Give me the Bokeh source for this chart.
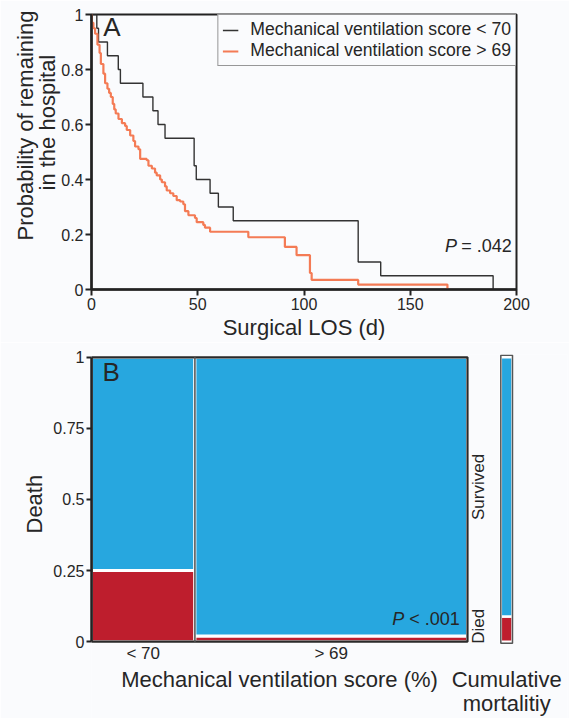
import numpy as np
from math import pi
from bokeh.plotting import figure
from bokeh.layouts import column
from bokeh.models import Range1d, FixedTicker, Title
from bokeh.core.properties import value
from bokeh.embed import file_html
from bokeh.resources import INLINE

# ---------------- data ----------------
# Panel A: Kaplan-Meier style curves (time in days, probability after each step)
los_lt70 = [0, 2.5, 3.3, 7.5, 12.6, 13.6, 24.2, 28.9, 31.3, 34.6, 48.3, 49.3,
            55.8, 59.7, 66.7, 125.5, 136.1, 189.0]
prob_lt70 = [1, 0.95, 0.90, 0.85, 0.80, 0.75, 0.70, 0.65, 0.60, 0.55, 0.45, 0.40,
             0.35, 0.30, 0.25, 0.10, 0.05, 0.0]
los_gt69 = [0, 0.2, 0.9, 1.7, 2.8, 3.8, 4.4, 5.6, 6.4, 7.5,
            8.3, 9.1, 10.0, 10.7, 11.4, 12.7, 14.3, 15.8, 16.6, 18.2,
            19.7, 20.5, 22.1, 22.9, 26.0, 26.8, 28.4, 29.9, 30.7, 32.3,
            33.1, 34.6, 35.4, 37.0, 38.5, 40.1, 41.7, 43.2, 44.0, 45.6,
            48.7, 49.5, 52.6, 53.4, 55.8, 73.8, 91.0, 96.5, 102.8, 103.6,
            125.5, 167.5]
prob_gt69 = [1, 0.97, 0.95, 0.93, 0.89, 0.86, 0.82, 0.785, 0.75, 0.73,
             0.715, 0.70, 0.675, 0.655, 0.64, 0.62, 0.605, 0.595, 0.58, 0.56,
             0.54, 0.52, 0.51, 0.475, 0.47, 0.45, 0.44, 0.425, 0.415, 0.40,
             0.39, 0.375, 0.36, 0.35, 0.34, 0.325, 0.32, 0.31, 0.285, 0.27,
             0.26, 0.245, 0.235, 0.225, 0.21, 0.19, 0.155, 0.125, 0.06, 0.035,
             0.018, 0.0]
km_names = ["Mechanical ventilation score < 70", "Mechanical ventilation score > 69"]
km_p_value = "= .042"
top_xticks = [0, 50, 100, 150, 200]
top_yticks = [0, 0.2, 0.4, 0.6, 0.8, 1]
top_ylabels = ["0", "0.2", "0.4", "0.6", "0.8", "1"]

# Panel B: mosaic plot
groups = ["< 70", "> 69"]
group_share = [0.275, 0.725]
died_share = [0.25, 0.02]
cumulative_died = 0.088
outcome_names = ["Died", "Survived"]
mosaic_p_value = "< .001"
bot_yticks = [0, 0.25, 0.5, 0.75, 1]
bot_ylabels = ["0", "0.25", "0.5", "0.75", "1"]

# ---------------- style ----------------
FONT = "Liberation Sans"
BG = "#FAFBFD"
TXT = "#262626"
AX = "#222222"
BLACK_LINE = "#333333"
ORANGE = "#F47B55"
BLUE = "#27A7DF"
RED = "#BE1E2D"


def side_title(text, offset, standoff, line_height=1.0, size="22px"):
    # left-side title, its start placed `offset` px above the frame bottom
    return Title(text=text, align="left", offset=offset, standoff=standoff,
                 vertical_align="middle", text_line_height=line_height,
                 text_font=FONT, text_font_size=size, text_font_style="normal",
                 text_color=TXT)


# ---------------- Panel A ----------------
p1 = figure(frame_width=425, frame_height=275,
            min_border_left=91, min_border_right=53, min_border_top=14, min_border_bottom=51,
            x_range=Range1d(0, 200), y_range=Range1d(0, 1),
            output_backend="svg", toolbar_location=None,
            background_fill_color=BG, border_fill_color=BG)
p1.grid.visible = False
p1.outline_line_color = AX
p1.outline_line_width = 2

p1.step(los_lt70, prob_lt70, mode="after", line_color=BLACK_LINE, line_width=1.4,
        legend_label=km_names[0])
p1.step(los_gt69, prob_gt69, mode="after", line_color=ORANGE, line_width=2.2,
        legend_label=km_names[1])

for ax in (p1.xaxis[0], p1.yaxis[0]):
    ax.axis_line_color = AX
    ax.axis_line_width = 2.5
    ax.major_tick_line_color = AX
    ax.major_tick_line_width = 2
    ax.major_tick_out = 6
    ax.major_tick_in = 0
    ax.minor_tick_line_color = None
    ax.major_label_text_font = FONT
    ax.major_label_text_font_size = "16px"
    ax.major_label_text_color = TXT
    ax.major_label_standoff = 2
    ax.axis_label_text_font = FONT
    ax.axis_label_text_font_size = "22px"
    ax.axis_label_text_font_style = "normal"
    ax.axis_label_text_color = TXT

p1.xaxis[0].ticker = FixedTicker(ticks=top_xticks)
p1.yaxis[0].ticker = FixedTicker(ticks=top_yticks)
p1.yaxis[0].major_label_overrides = {t: s for t, s in zip(top_yticks, top_ylabels)}
p1.xaxis[0].axis_label = "Surgical LOS (d)"
p1.xaxis[0].axis_label_standoff = 2

# two-line y title, sitting above the frame centre as in the reference
p1.add_layout(side_title("in the hospital", 99, -5, 0.85), "left")
p1.add_layout(side_title("Probability of remaining", 49, -4, 0.85), "left")

p1.text(x=[5.5], y=[0.955], text=["A"], text_font=value(FONT), text_font_size="26px",
        text_color=TXT, text_baseline="middle", text_align="left")
p1.text(x=[166.3], y=[0.16], text=["P"], text_font=value(FONT), text_font_size="18px",
        text_font_style="italic", text_color=TXT, text_baseline="middle", text_align="left")
p1.text(x=[174.0], y=[0.16], text=[km_p_value], text_font=value(FONT), text_font_size="18px",
        text_color=TXT, text_baseline="middle", text_align="left")

lg = p1.legend[0]
lg.location = "top_right"
lg.margin = 0
lg.padding = 4
lg.spacing = 0
lg.glyph_width = 16
lg.glyph_height = 20
lg.label_height = 20
lg.label_standoff = 12
lg.label_text_font = FONT
lg.label_text_font_size = "17.6px"
lg.label_text_color = TXT
lg.border_line_color = "#333333"
lg.border_line_width = 1.5
lg.background_fill_color = BG
lg.background_fill_alpha = 1

# ---------------- Panel B ----------------
XSCALE = 376.0          # px per unit of patient share
YSCALE = 284.3          # px per unit of probability
FW, FH = 476, 366
y_top = 1.01
p2 = figure(frame_width=FW, frame_height=FH, x_axis_location=None,
            min_border_left=91, min_border_right=2, min_border_top=12, min_border_bottom=0,
            x_range=Range1d(0, FW / XSCALE), y_range=Range1d(y_top - FH / YSCALE, y_top),
            output_backend="svg", toolbar_location=None,
            background_fill_color=BG, border_fill_color=BG)
p2.grid.visible = False
p2.outline_line_color = None

edges = np.concatenate([[0.0], np.cumsum(group_share)])
lefts, rights = edges[:-1], edges[1:]
died = np.array(died_share)
p2.quad(left=lefts, right=rights, bottom=0, top=died, fill_color=RED,
        line_color="white", line_width=3)
p2.quad(left=lefts, right=rights, bottom=died, top=1, fill_color=BLUE,
        line_color="white", line_width=3)
p2.quad(left=[0], right=[1], bottom=[0], top=[1], fill_color=None,
        line_color="#2a2a2a", line_width=2.2)
p2.segment(x0=edges[1:-1], y0=0, x1=edges[1:-1], y1=1, line_color="#5a5a5a", line_width=1.6)

# cumulative mortality bar
bx0, bx1 = 1.0886, 1.1197
bxc = (bx0 + bx1) / 2
p2.quad(left=[bx0, bx0], right=[bx1, bx1], bottom=[0, cumulative_died],
        top=[cumulative_died, 1], fill_color=[RED, BLUE], line_color="white", line_width=2.5)
p2.quad(left=[bx0], right=[bx1], bottom=[-0.006], top=[1.007], fill_color=None,
        line_color="#555555", line_width=1.5)

p2.text(x=[1.030, 1.030], y=[0.054, (1 + cumulative_died) / 2], text=outcome_names,
        angle=pi / 2, text_font=value(FONT), text_font_size="17px", text_color=TXT,
        text_align="center", text_baseline="middle")
p2.text(x=[0.029], y=[0.95], text=["B"], text_font=value(FONT), text_font_size="26px",
        text_color=TXT, text_baseline="middle", text_align="left")
p2.text(x=[0.800], y=[0.078], text=["P"], text_font=value(FONT), text_font_size="18px",
        text_font_style="italic", text_color=TXT, text_baseline="middle", text_align="left")
p2.text(x=[0.845], y=[0.078], text=[mosaic_p_value], text_font=value(FONT), text_font_size="18px",
        text_color=TXT, text_baseline="middle", text_align="left")

# category labels under each column and the titles below
p2.text(x=(lefts + rights) / 2, y=-0.043, text=groups, text_font=value(FONT),
        text_font_size="17px", text_color=TXT, text_align="center", text_baseline="middle")
p2.text(x=[0.5], y=[-0.133], text=["Mechanical ventilation score (%)"], text_font=value(FONT),
        text_font_size="22px", text_color=TXT, text_align="center", text_baseline="middle")
p2.text(x=[bxc, bxc], y=[-0.133, -0.216], text=["Cumulative", "mortalitiy"],
        text_font=value(FONT), text_font_size="22px", text_color=TXT,
        text_align="center", text_baseline="middle")

ya = p2.yaxis[0]
ya.ticker = FixedTicker(ticks=bot_yticks)
ya.major_label_overrides = {t: s for t, s in zip(bot_yticks, bot_ylabels)}
ya.bounds = (0, 1)
ya.axis_line_color = AX
ya.axis_line_width = 2.5
ya.major_tick_line_color = AX
ya.major_tick_line_width = 2
ya.major_tick_out = 5
ya.major_tick_in = 0
ya.minor_tick_line_color = None
ya.major_label_text_font = FONT
ya.major_label_text_font_size = "16px"
ya.major_label_text_color = TXT
ya.major_label_standoff = 2
p2.add_layout(side_title("Death", 187, 6), "left")

layout = column(p1, p2, spacing=0)
open("out.html", "w").write(file_html(layout, INLINE))
